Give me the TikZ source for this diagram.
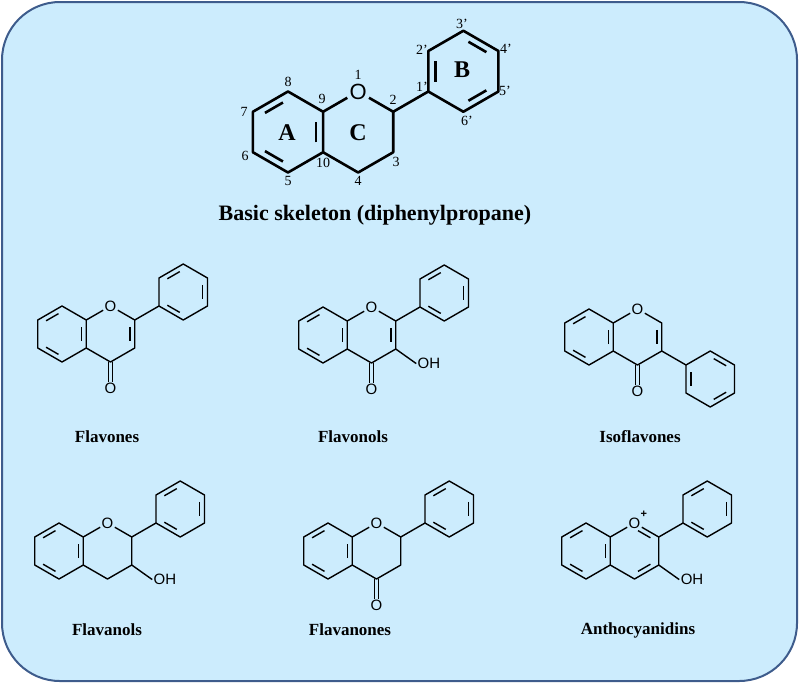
\documentclass[tikz,border=0pt]{standalone}
\usepackage{fontspec}
\setmainfont{Liberation Serif}
\setsansfont{Liberation Sans}
\usetikzlibrary{calc}
\definecolor{bgblue}{RGB}{204,236,253}
\definecolor{frame}{RGB}{62,92,140}

\tikzset{
  atom/.style={inner sep=0.8pt,font=\sffamily\fontsize{15}{15}\selectfont},
  bigatom/.style={inner sep=1pt,font=\sffamily\fontsize{22}{22}\selectfont},
  name label/.style={font=\bfseries\fontsize{17}{17}\selectfont},
  num/.style={font=\fontsize{14}{14}\selectfont},
  ring/.style={font=\bfseries\fontsize{24}{24}\selectfont},
  mol/.style={line width=1.4pt,line join=round,x=28pt,y=28pt}
}

% inner line of a double bond, pulled towards the ring centre
\newcommand\inb[3]{\draw ($(#1)!0.18!(#2)!0.2!(#3)$) -- ($(#2)!0.18!(#1)!0.2!(#3)$);}

% coordinates of the bicyclic core (ring A centre at the origin)
\newcommand\corecoords[1][atom]{
  \coordinate (Ac) at (0,0);     \coordinate (Cc) at (1.732,0);
  \coordinate (C8) at (0,1);     \coordinate (C7) at (-0.866,0.5);
  \coordinate (C6) at (-0.866,-0.5); \coordinate (C5) at (0,-1);
  \coordinate (C4a) at (0.866,-0.5); \coordinate (C8a) at (0.866,0.5);
  \coordinate (C2) at (2.598,0.5); \coordinate (C3) at (2.598,-0.5);
  \coordinate (C4) at (1.732,-1);
  \node[#1] (O1) at (1.732,1) {O};
}
\newcommand\ringA{
  \draw (C8)--(C7)--(C6)--(C5)--(C4a)--(C8a)--cycle;
  \inb{C8}{C7}{Ac} \inb{C6}{C5}{Ac} \inb{C4a}{C8a}{Ac}
}
\newcommand\ringC{\draw (C8a)--(O1)--(C2)--(C3)--(C4)--(C4a);}
% phenyl on C2
\newcommand\phup{
  \coordinate (Pc) at (4.33,1.5);
  \coordinate (P1) at (3.464,1); \coordinate (P2) at (3.464,2);
  \coordinate (P3) at (4.33,2.5); \coordinate (P4) at (5.196,2);
  \coordinate (P5) at (5.196,1); \coordinate (P6) at (4.33,0.5);
  \draw (C2)--(P1);
  \draw (P1)--(P2)--(P3)--(P4)--(P5)--(P6)--cycle;
  \inb{P2}{P3}{Pc} \inb{P4}{P5}{Pc} \inb{P6}{P1}{Pc}
}
% phenyl on C3
\newcommand\phdown{
  \coordinate (Pc) at (4.33,-1.5);
  \coordinate (P1) at (3.464,-1); \coordinate (P2) at (4.33,-0.5);
  \coordinate (P3) at (5.196,-1); \coordinate (P4) at (5.196,-2);
  \coordinate (P5) at (4.33,-2.5); \coordinate (P6) at (3.464,-2);
  \draw (C3)--(P1);
  \draw (P1)--(P2)--(P3)--(P4)--(P5)--(P6)--cycle;
  \inb{P6}{P1}{Pc} \inb{P2}{P3}{Pc} \inb{P4}{P5}{Pc}
}
% C4=O
\newcommand\keto{
  \node[atom] (O4) at (1.732,-1.95) {O};
  \draw ([xshift=-2pt]C4) -- ([xshift=-2pt]O4.north);
  \draw ([xshift=2pt]C4) -- ([xshift=2pt]O4.north);
}
% OH on C3
\newcommand\hydroxy{
  \node[atom,anchor=west] (OH) at (3.33,-1.02) {OH};
  \draw (C3) -- (OH.west);
}

\begin{document}
\begin{tikzpicture}[x=1pt,y=-1pt]
\useasboundingbox (0,0) rectangle (799,683);
\draw[rounded corners=58pt,fill=bgblue,draw=frame,line width=2pt] (2,2) rectangle (797,681);

% basic skeleton
\begin{scope}[shift={(288,132)},mol,line width=2.6pt,x=40.5pt,y=40.5pt]
  \corecoords[bigatom]
  \ringA \ringC
  \coordinate (Bc) at (4.33,1.5);
  \coordinate (B1) at (3.464,1); \coordinate (B2) at (3.464,2);
  \coordinate (B3) at (4.33,2.5); \coordinate (B4) at (5.196,2);
  \coordinate (B5) at (5.196,1); \coordinate (B6) at (4.33,0.5);
  \draw (C2)--(B1);
  \draw (B1)--(B2)--(B3)--(B4)--(B5)--(B6)--cycle;
  \inb{B1}{B2}{Bc} \inb{B3}{B4}{Bc} \inb{B5}{B6}{Bc}
\end{scope}
\foreach \t/\px/\py in {1/358/75,2/393/100,3/396/162,4/358/181,10/323/163,9/322/99,
  8/288/82,7/244/112,6/245/156,5/288/181,1'/422/87,2'/422/50,3'/462/24,
  4'/506/49,5'/505/91,6'/467/121}
  \node[num] (n\t) at (\px,\py) {\t};
\node[ring] (ringa) at (287,133) {A};
\node[ring] (ringc) at (358,133) {C};
\node[ring] (ringb) at (462,70) {B};
\node[font=\bfseries\fontsize{22}{22}\selectfont] (title) at (375,215) {Basic skeleton (diphenylpropane)};

% flavones
\begin{scope}[shift={(62,334)},mol]
  \corecoords \ringA \ringC \inb{C2}{C3}{Cc} \keto \phup
\end{scope}
% flavonols
\begin{scope}[shift={(323,335)},mol]
  \corecoords \ringA \ringC \inb{C2}{C3}{Cc} \keto \phup \hydroxy
\end{scope}
% isoflavones
\begin{scope}[shift={(589,337)},mol]
  \corecoords \ringA \ringC \inb{C2}{C3}{Cc} \keto \phdown
\end{scope}
% flavanols
\begin{scope}[shift={(59,551)},mol]
  \corecoords \ringA \ringC \phup \hydroxy
\end{scope}
% flavanones
\begin{scope}[shift={(328,551)},mol]
  \corecoords \ringA \ringC \keto \phup
\end{scope}
% anthocyanidins
\begin{scope}[shift={(586,551)},mol]
  \corecoords \ringA \ringC \inb{O1}{C2}{Cc} \inb{C3}{C4}{Cc} \phup \hydroxy
  \node[font=\sffamily\bfseries\fontsize{11}{11}\selectfont,inner sep=0pt] (plus) at ([xshift=2pt,yshift=2pt]O1.north east) {+};
\end{scope}

\node[name label] (lflavones) at (107,437) {Flavones};
\node[name label] (lflavonols) at (353,437) {Flavonols};
\node[name label] (lisoflavones) at (640,437) {Isoflavones};
\node[name label] (lflavanols) at (107,630) {Flavanols};
\node[name label] (lflavanones) at (350,630) {Flavanones};
\node[name label] (lantho) at (638,630) {Anthocyanidins};
\end{tikzpicture}
\end{document}
